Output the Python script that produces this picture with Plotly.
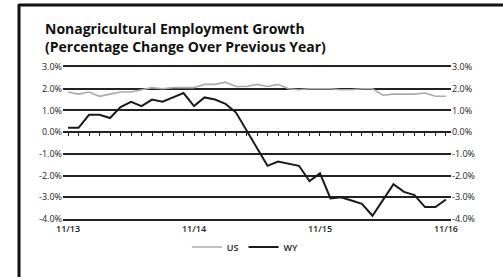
import plotly.graph_objects as go

months = list(range(37))
tick_vals = [0, 12, 24, 36]
tick_labels = ["11/13", "11/14", "11/15", "11/16"]
y_ticks = [3, 2, 1, 0, -1, -2, -3, -4]
y_labels = ["3.0%", "2.0%", "1.0%", "0.0%", "-1.0%", "-2.0%", "-3.0%", "-4.0%"]

us = [1.85, 1.75, 1.85, 1.65, 1.75, 1.85, 1.85, 1.95, 2.05, 2.0, 2.05, 2.05, 2.05,
      2.2, 2.2, 2.3, 2.1, 2.1, 2.2, 2.1, 2.2, 2.0, 1.95, 2.0, 2.0, 2.0, 1.95, 1.95,
      2.0, 2.0, 1.7, 1.75, 1.75, 1.75, 1.8, 1.65, 1.65]
wy = [0.2, 0.2, 0.8, 0.8, 0.65, 1.15, 1.4, 1.2, 1.5, 1.4, 1.6, 1.8, 1.2, 1.6, 1.5,
      1.3, 0.9, 0.1, -0.7, -1.55, -1.35, -1.45, -1.55, -2.25, -1.9, -3.05, -3.0,
      -3.15, -3.3, -3.85, -3.1, -2.4, -2.75, -2.9, -3.45, -3.45, -3.1]

W, H = 503, 277
L, R, T, B = 63, 52, 67, 58
pw, ph = W - L - R, H - T - B

def px(x):
    return (x - L) / pw

def py(y):
    return (H - B - y) / ph

fnt = "Open Sans, Noto Sans, sans-serif"

fig = go.Figure()
fig.add_trace(go.Scatter(x=months, y=us, name="US", mode="lines",
                         line=dict(color="#ababab", width=1.6)))
fig.add_trace(go.Scatter(x=months, y=wy, name="WY", mode="lines",
                         line=dict(color="#1a1a1a", width=2)))
# invisible trace for right axis
fig.add_trace(go.Scatter(x=months, y=wy, yaxis="y2", xaxis="x2", mode="lines",
                         line=dict(width=0), opacity=0, showlegend=False,
                         hoverinfo="skip"))

yr = [-4, 3]
fig.update_layout(
    width=W, height=H, autosize=False,
    margin=dict(l=L, r=R, t=T, b=B, pad=0, autoexpand=False),
    paper_bgcolor="white", plot_bgcolor="white",
    font=dict(family=fnt, color="#222", size=9),
    showlegend=True,
    legend=dict(orientation="h", x=0.47, xanchor="center", y=py(247), yanchor="middle",
                font=dict(size=9, color="#222", weight=600), itemwidth=30,
                bgcolor="rgba(0,0,0,0)", tracegroupgap=0),
    xaxis=dict(range=[-0.48, 36.48], tickvals=tick_vals, ticktext=tick_labels,
               showgrid=False, zeroline=False, showline=True, linecolor="#222",
               linewidth=1.5, mirror=True, ticks="", ticklabelstandoff=0,
               tickfont=dict(size=9, color="#222", weight=600)),
    xaxis2=dict(range=[-0.48, 36.48], overlaying="x", anchor="free",
                position=(0 - yr[0]) / (yr[1] - yr[0]),
                tickmode="linear", tick0=1, dtick=1, ticks="outside", ticklen=3,
                tickwidth=1, tickcolor="#222", showticklabels=False,
                showgrid=False, zeroline=False, showline=False),
    yaxis=dict(range=yr, tickvals=y_ticks, ticktext=y_labels, showgrid=True,
               gridcolor="#222", gridwidth=1.5, zeroline=True, zerolinecolor="#222",
               zerolinewidth=1.5, showline=False, ticks="", ticklen=0,
               tickfont=dict(size=9, color="#222")),
    yaxis2=dict(range=yr, tickvals=y_ticks, ticktext=y_labels, overlaying="y",
                side="right", showgrid=False, zeroline=False, showline=False,
                ticks="", tickfont=dict(size=9, color="#222")),
)

# outer frame (left and top edges)
fig.add_shape(type="line", xref="paper", yref="paper", x0=px(19), x1=px(19),
              y0=py(4), y1=py(285), line=dict(color="#111", width=3))
fig.add_shape(type="line", xref="paper", yref="paper", x0=px(19), x1=px(510),
              y0=py(5), y1=py(5), line=dict(color="#111", width=3))

fig.add_annotation(xref="paper", yref="paper", x=px(43), y=py(17), xanchor="left",
                   yanchor="top", align="left", showarrow=False,
                   text="Nonagricultural Employment Growth<br>(Percentage Change Over Previous Year)",
                   font=dict(family=fnt, size=14, color="#111", weight=700))

fig.write_html("out.html", config={"displayModeBar": False},
               post_script="document.body.style.margin='0';document.body.style.overflow='hidden';")
